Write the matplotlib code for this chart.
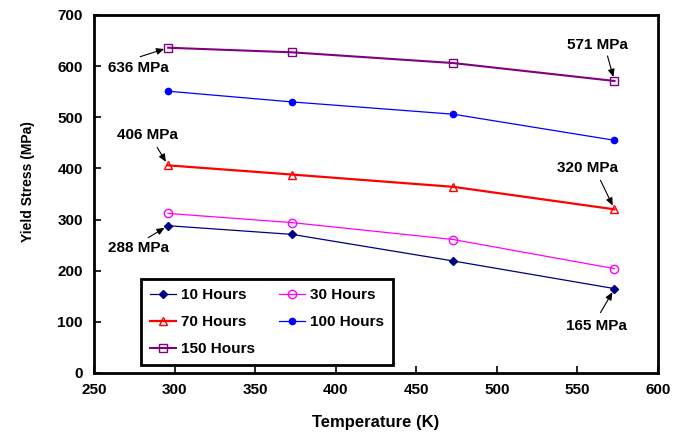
"""
Yield stress vs temperature for different aging times
"""
import matplotlib
matplotlib.use("Agg")
import matplotlib.pyplot as plt

temperature = [296, 373, 473, 573]
stress_10h = [288, 271, 219, 165]
stress_30h = [312, 294, 261, 204]
stress_70h = [406, 388, 364, 320]
stress_100h = [551, 530, 506, 455]
stress_150h = [636, 627, 606, 571]

# (label, point x, point y, text offset, arrow tail offset) -- offsets in px, y up
notes = [
    ("636 MPa", 296, 636, (-30, -20), (-28, -9)),
    ("406 MPa", 296, 406, (-21, 30), (-11, 18)),
    ("288 MPa", 296, 288, (-30, -22), (-20, -12)),
    ("571 MPa", 573, 571, (-17, 36), (-7, 25)),
    ("320 MPa", 573, 320, (-27, 41), (-14, 29)),
    ("165 MPa", 573, 165, (-18, -37), (-14, -24)),
]
PX = 0.72  # pixels -> points at 100 dpi


def main():
    plt.rcParams["font.family"] = ["Liberation Sans", "DejaVu Sans"]
    plt.rcParams["font.weight"] = "bold"

    fig = plt.figure(figsize=(6.84, 4.36), dpi=100)
    ax = fig.add_axes([0.1374, 0.1445, 0.8246, 0.8211])

    l10, = ax.plot(temperature, stress_10h, color="#000080", lw=0.9, marker="D",
                   ms=4.5, mfc="#000080", label="10 Hours")
    l30, = ax.plot(temperature, stress_30h, color="#FF00FF", lw=0.9, marker="o",
                   ms=6, mfc="none", label="30 Hours")
    l70, = ax.plot(temperature, stress_70h, color="#FF0000", lw=1.6, marker="^",
                   ms=6, mfc="none", label="70 Hours")
    l100, = ax.plot(temperature, stress_100h, color="#0000FF", lw=0.9, marker="o",
                    ms=4.5, mfc="#0000FF", label="100 Hours")
    l150, = ax.plot(temperature, stress_150h, color="#800080", lw=1.5, marker="s",
                    ms=6, mfc="none", label="150 Hours")

    for text, px, py, toff, aoff in notes:
        ax.annotate(text, xy=(px, py), xytext=(toff[0] * PX, toff[1] * PX),
                    textcoords="offset points", ha="center", va="center",
                    fontsize=11, fontweight="bold")
        ax.annotate("", xy=(px, py), xytext=(aoff[0] * PX, aoff[1] * PX),
                    textcoords="offset points",
                    arrowprops=dict(arrowstyle="-|>,head_length=0.5,head_width=0.22",
                                    color="black", lw=0.8, mutation_scale=9,
                                    shrinkA=0, shrinkB=3))

    ax.set_xlim(250, 600)
    ax.set_ylim(0, 700)
    ax.set_xticks(range(250, 601, 50))
    ax.set_yticks(range(0, 701, 100))
    ax.tick_params(direction="in", length=5, width=1.2, labelsize=11)
    ax.tick_params(axis="x", pad=7)
    ax.tick_params(axis="y", pad=8)
    for sp in ax.spines.values():
        sp.set_linewidth(2)
    ax.set_xlabel("Temperature (K)", fontsize=12, fontweight="bold")
    ax.xaxis.set_label_coords(0.5, -0.117)
    ax.set_ylabel("Yield Stress (MPa)", fontsize=10, fontweight="bold")
    ax.yaxis.set_label_coords(-0.104, 0.536)

    handles = [l10, l70, l150, l30, l100]
    leg = ax.legend(handles=handles, loc="lower left",
                    bbox_to_anchor=(0.0833, 0.0223), borderaxespad=0, ncol=2,
                    fontsize=11, frameon=True, fancybox=False, framealpha=1,
                    edgecolor="black", handlelength=1.7, columnspacing=1.6,
                    labelspacing=0.85, borderpad=0.6, handletextpad=0.3)
    leg.get_frame().set_linewidth(2)

    fig.savefig("out.png", dpi=100)


if __name__ == "__main__":
    main()
